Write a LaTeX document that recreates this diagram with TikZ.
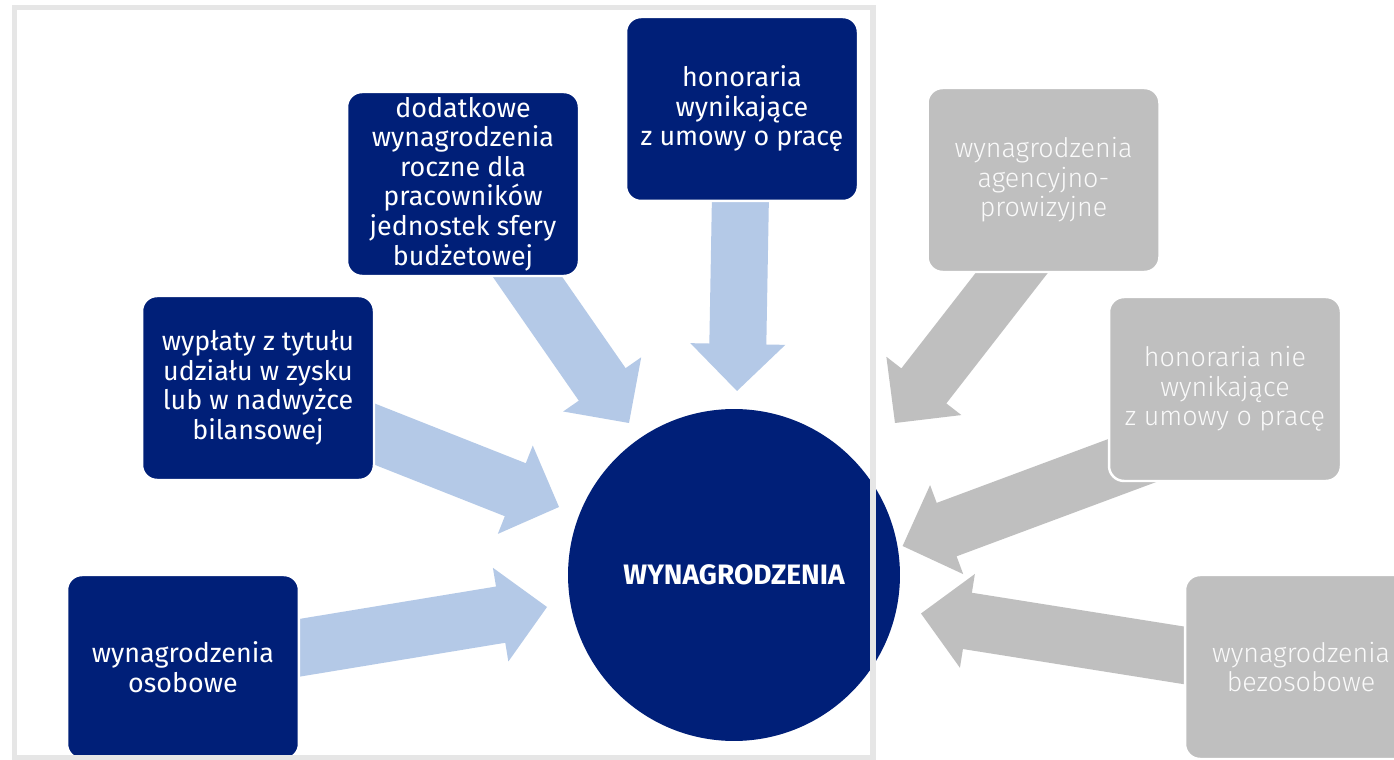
\documentclass[tikz,border=0pt]{standalone}
\usepackage{fontspec}
\setmainfont{Fira Sans}
\IfFontExistsTF{Fira Sans Light}{\newfontfamily\lightfont{Fira Sans Light}}{\newfontfamily\lightfont{Fira Sans}}
\usetikzlibrary{calc}
\definecolor{navy}{RGB}{0,31,120}
\definecolor{lblue}{RGB}{180,201,231}
\definecolor{boxgray}{RGB}{191,191,191}
\definecolor{graytext}{RGB}{250,250,250}
\definecolor{framegray}{RGB}{230,230,230}
\newcommand\blockarrow[3]{%
  \coordinate (ba) at ($(#2)!0.94cm!(#1)$);
  \fill[#3] ($(#1)!0.57cm!90:(#2)$) -- ($(ba)!0.57cm!90:(#2)$) -- ($(ba)!0.95cm!90:(#2)$)
    -- (#2) -- ($(ba)!0.95cm!-90:(#2)$) -- ($(ba)!0.57cm!-90:(#2)$) -- ($(#1)!0.57cm!-90:(#2)$) -- cycle;}
\begin{document}
\begin{tikzpicture}[x=0.02cm,y=-0.02cm,
  box/.style={rectangle, rounded corners=0.3cm, minimum width=4.64cm, minimum height=3.68cm,
    align=center, draw=white, line width=1.4pt, inner sep=0pt},
  navybox/.style={box, fill=navy, text=white, font=\fontsize{15.3}{16.8}\selectfont},
  graybox/.style={box, fill=boxgray, text=graytext, font=\lightfont\fontsize{15.3}{16.8}\selectfont},
  hub/.style={circle, fill=navy, minimum size=6.64cm, inner sep=0pt, text=white,
    font=\bfseries\fontsize{16}{18}\selectfont}]
\path[use as bounding box, clip] (0,0) rectangle (1394,760);
\fill[white] (0,0) rectangle (1394,760);
% anchor points
\coordinate (tA) at (737,391);
\coordinate (tB) at (629,423);
\coordinate (tC) at (559,507);
\coordinate (tD) at (547,607);
\coordinate (tE) at (895,423);
\coordinate (tF) at (902.6,546);
\coordinate (tG) at (921,613.5);
\coordinate (sE) at (1084,180);
\coordinate (sF) at (1225,426);
\coordinate (sG) at (1301,674);
% arrow start points (box centres)
\path (742,109) coordinate (cA) (463,184) coordinate (cB) (258,388) coordinate (cC) (183,667) coordinate (cD);
% arrows
\blockarrow{cA}{tA}{lblue}
\blockarrow{cB}{tB}{lblue}
\blockarrow{cC}{tC}{lblue}
\blockarrow{cD}{tD}{lblue}
\blockarrow{sE}{tE}{boxgray}
\blockarrow{sF}{tF}{boxgray}
\blockarrow{sG}{tG}{boxgray}
% boxes
\node[navybox] (hon) at (cA) {honoraria\\wynikające\\z umowy o pracę};
\node[navybox] (dod) at (cB) {dodatkowe\\wynagrodzenia\\roczne dla\\pracowników\\jednostek sfery\\budżetowej};
\node[navybox] (wyp) at (cC) {wypłaty z tytułu\\udziału w zysku\\lub w nadwyżce\\bilansowej};
\node[navybox] (oso) at (cD) {wynagrodzenia\\osobowe};
\node[graybox] (agen) at (1043.5,180) {wynagrodzenia\\agencyjno-\\prowizyjne};
\node[graybox] (honnie) at (1225,389) {honoraria nie\\wynikające\\z umowy o pracę};
\node[graybox] (bez) at (1301,667) {wynagrodzenia\\bezosobowe};
\node[hub] (hub) at (734,575) {WYNAGRODZENIA};
% frame
\draw[framegray, line width=3.4pt] (14.5,7.5) rectangle (873,758);
\end{tikzpicture}
\end{document}
